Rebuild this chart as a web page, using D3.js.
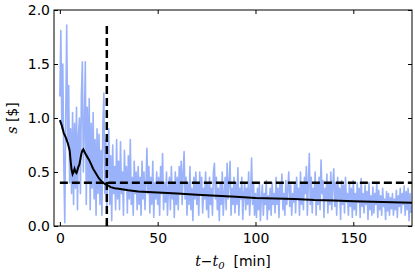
<!DOCTYPE html>
<html>
<head>
<meta charset="utf-8">
<script src="https://cdn.jsdelivr.net/npm/d3@7"></script>
<style>
  body { margin: 0; background: #fff; }
  svg { display: block; font-family: "DejaVu Sans", sans-serif; }
</style>
</head>
<body>
<svg id="chart" width="415" height="277"></svg>
<script>
// raw spread series, one value every half minute from t = 0
const rawStep = 0.5;
const rawValues = [
  1.2, 1.81, 0.9, 1.5, 0.6, 0.03, 1.0, 1.86, 0.8, 1.3, 0.4, 0.9, 0.3, 1.05, 0.2, 0.95, 0.35, 1.1, 0.15, 0.85,
  1.0, 0.3, 1.2, 1.52, 0.5, 0.9, 1.52, 0.2, 1.1, 0.4, 1.18, 0.15, 0.95, 0.35, 1.05, 0.25, 0.8, 0.1, 0.9, 0.3,
  0.85, 0.2, 0.7, 0.1, 0.95, 1.23, 0.3, 0.8, 0.15, 0.6, 0.9, 0.2, 0.65, 0.05, 0.75, 0.3, 0.55, 0.15, 0.8, 0.25,
  0.6, 0.15, 0.78, 0.3, 0.5, 0.1, 0.7, 0.35, 0.55, 0.12, 0.65, 0.25, 0.8, 0.2, 0.45, 0.1, 0.6, 0.3, 0.5, 0.15,
  0.55, 0.2, 0.45, 0.1, 0.6, 0.25, 0.5, 0.15, 0.4, 0.72, 0.3, 0.55, 0.12, 0.45, 0.2, 0.6, 0.08, 0.4, 0.25, 0.5,
  0.2, 0.45, 0.1, 0.55, 0.3, 0.67, 0.15, 0.4, 0.22, 0.5, 0.1, 0.35, 0.45, 0.15, 0.55, 0.25, 0.4, 0.08, 0.5, 0.2,
  0.45, 0.15, 0.55, 0.3, 0.6, 0.2, 0.5, 0.69, 0.25, 0.45, 0.1, 0.4, 0.2, 0.55, 0.15, 0.35, 0.05, 0.45, 0.25, 0.5,
  0.2, 0.4, 0.1, 0.5, 0.3, 0.45, 0.12, 0.35, 0.25, 0.5, 0.15, 0.4, 0.08, 0.45, 0.2, 0.35, 0.1, 0.5, 0.58, 0.25,
  0.45, 0.15, 0.35, 0.05, 0.4, 0.2, 0.5, 0.1, 0.3, 0.45, 0.15, 0.58, 0.25, 0.4, 0.6, 0.1, 0.35, 0.2, 0.45, 0.12,
  0.4, 0.2, 0.54, 0.1, 0.35, 0.25, 0.45, 0.06, 0.3, 0.4, 0.15, 0.35, 0.2, 0.5, 0.1, 0.3, 0.63, 0.2, 0.4, 0.1,
  0.3, 0.08, 0.35, 0.15, 0.4, 0.05, 0.25, 0.38, 0.1, 0.3, 0.2, 0.42, 0.06, 0.28, 0.15, 0.35, 0.1, 0.4, 0.2, 0.3,
  0.12, 0.45, 0.2, 0.35, 0.08, 0.4, 0.25, 0.48, 0.15, 0.3, 0.1, 0.42, 0.2, 0.35, 0.5, 0.18, 0.38, 0.1, 0.3, 0.22,
  0.4, 0.12, 0.45, 0.25, 0.35, 0.1, 0.5, 0.2, 0.4, 0.15, 0.45, 0.3, 0.55, 0.1, 0.38, 0.67, 0.2, 0.45, 0.12, 0.35,
  0.25, 0.5, 0.1, 0.4, 0.2, 0.45, 0.15, 0.61, 0.3, 0.42, 0.08, 0.35, 0.25, 0.48, 0.12, 0.4, 0.2, 0.5, 0.15, 0.38,
  0.53, 0.18, 0.4, 0.1, 0.45, 0.25, 0.35, 0.06, 0.42, 0.2, 0.38, 0.12, 0.45, 0.22, 0.3, 0.1, 0.4, 0.18, 0.35, 0.08,
  0.42, 0.15, 0.3, 0.1, 0.4, 0.22, 0.35, 0.08, 0.44, 0.18, 0.3, 0.12, 0.38, 0.2, 0.32, 0.06, 0.4, 0.15, 0.28, 0.1,
  0.36, 0.12, 0.3, 0.2, 0.4, 0.08, 0.33, 0.15, 0.28, 0.1, 0.35, 0.18, 0.25, 0.06, 0.32, 0.14, 0.3, 0.1, 0.26, 0.16,
  0.3, 0.1, 0.25, 0.15, 0.33, 0.08, 0.28, 0.18, 0.35, 0.12, 0.3, 0.2, 0.37, 0.1, 0.32, 0.15, 0.35, 0.05, 0.3, 0.12
];

// running average (black curve)
const avgTimes = [0, 1, 2, 3, 4, 5, 5.5, 6, 6.5, 7, 7.5, 8, 8.5, 9, 9.5, 10, 10.5, 11, 11.5, 12, 12.5, 13, 14, 15, 16, 17, 18, 19, 20, 21, 22, 23, 24, 26, 28, 30, 35, 40, 50, 60, 70, 80, 90, 100, 110, 120, 130, 140, 150, 160, 170, 180];
const avgValues = [0.98, 0.93, 0.86, 0.82, 0.77, 0.7, 0.6, 0.52, 0.48, 0.5, 0.53, 0.5, 0.49, 0.52, 0.55, 0.57, 0.62, 0.67, 0.7, 0.71, 0.69, 0.67, 0.64, 0.61, 0.57, 0.53, 0.5, 0.47, 0.44, 0.42, 0.4, 0.39, 0.38, 0.36, 0.35, 0.345, 0.33, 0.32, 0.31, 0.3, 0.29, 0.28, 0.27, 0.26, 0.255, 0.25, 0.24, 0.235, 0.23, 0.225, 0.22, 0.215];

// dashed reference lines
const threshold = 0.4;
const cutTime = 24;
const cutTop = 1.87;

const xTicks = [0, 50, 100, 150];
const yTicks = [0, 0.5, 1.0, 1.5, 2.0];

const svg = d3.select("#chart");
const plotLeft = 54, plotRight = 412, plotTop = 10, plotBottom = 226;

const x = d3.scaleLinear().domain([-3, 180]).range([plotLeft, plotRight]);
const y = d3.scaleLinear().domain([0, 2]).range([plotBottom, plotTop]);

svg.append("clipPath").attr("id", "clip")
  .append("rect")
  .attr("x", plotLeft).attr("y", plotTop)
  .attr("width", plotRight - plotLeft).attr("height", plotBottom - plotTop);

const plot = svg.append("g").attr("clip-path", "url(#clip)");

const raw = rawValues.map((v, i) => [i * rawStep, v]);
const avg = avgTimes.map((t, i) => [t, avgValues[i]]);

const line = d3.line().x(d => x(d[0])).y(d => y(d[1]));

plot.append("path")
  .attr("d", line(raw))
  .attr("fill", "none")
  .attr("stroke", "#9ab2f9")
  .attr("stroke-width", 1.6)
  .attr("stroke-linejoin", "round");

plot.append("path")
  .attr("d", line(avg))
  .attr("fill", "none")
  .attr("stroke", "#000")
  .attr("stroke-width", 2);

plot.append("line")
  .attr("x1", x(0)).attr("x2", x(180))
  .attr("y1", y(threshold)).attr("y2", y(threshold))
  .attr("stroke", "#000")
  .attr("stroke-width", 2.5)
  .attr("stroke-dasharray", "8,4");

plot.append("line")
  .attr("x1", x(cutTime)).attr("x2", x(cutTime))
  .attr("y1", y(0)).attr("y2", y(cutTop))
  .attr("stroke", "#000")
  .attr("stroke-width", 2.5)
  .attr("stroke-dasharray", "8,4");

// axes, ticks pointing inward on all four sides
function styleAxis(g) {
  g.select(".domain").remove();
  g.selectAll(".tick line").attr("stroke", "#000");
  g.selectAll(".tick text").attr("font-size", 14).attr("fill", "#000")
    .attr("font-family", "DejaVu Sans");
}

svg.append("g")
  .attr("transform", `translate(0,${plotBottom})`)
  .call(d3.axisBottom(x).tickValues(xTicks).tickFormat(d3.format("d")).tickSizeInner(-4).tickSizeOuter(0).tickPadding(7))
  .call(styleAxis);

svg.append("g")
  .attr("transform", `translate(0,${plotTop})`)
  .call(d3.axisTop(x).tickValues(xTicks).tickFormat("").tickSizeInner(-4).tickSizeOuter(0))
  .call(styleAxis);

svg.append("g")
  .attr("transform", `translate(${plotLeft},0)`)
  .call(d3.axisLeft(y).tickValues(yTicks).tickFormat(d3.format(".1f")).tickSizeInner(-4).tickSizeOuter(0).tickPadding(4))
  .call(styleAxis);

svg.append("g")
  .attr("transform", `translate(${plotRight},0)`)
  .call(d3.axisRight(y).tickValues(yTicks).tickFormat("").tickSizeInner(-4).tickSizeOuter(0))
  .call(styleAxis);

svg.append("rect")
  .attr("x", plotLeft).attr("y", plotTop)
  .attr("width", plotRight - plotLeft).attr("height", plotBottom - plotTop)
  .attr("fill", "none")
  .attr("stroke", "#000")
  .attr("stroke-width", 1);

// axis labels
const xLabel = svg.append("text")
  .attr("x", (plotLeft + plotRight) / 2)
  .attr("y", 266)
  .attr("text-anchor", "middle")
  .attr("font-size", 14);
xLabel.append("tspan").attr("font-family", "DejaVu Serif").attr("font-style", "italic").text("t");
xLabel.append("tspan").attr("font-family", "DejaVu Sans").text("\u2212");
xLabel.append("tspan").attr("font-family", "DejaVu Serif").attr("font-style", "italic").text("t");
xLabel.append("tspan").attr("font-family", "DejaVu Serif").attr("font-style", "italic")
  .attr("font-size", 10).attr("dy", 3).text("0");
xLabel.append("tspan").attr("dy", -3).text("\u00a0 [min]");

const yLabel = svg.append("text")
  .attr("transform", `translate(17,${(plotTop + plotBottom) / 2}) rotate(-90)`)
  .attr("text-anchor", "middle")
  .attr("font-size", 14);
yLabel.append("tspan").attr("font-family", "DejaVu Serif").attr("font-style", "italic").text("s");
yLabel.append("tspan").text(" [$]");
</script>
</body>
</html>
